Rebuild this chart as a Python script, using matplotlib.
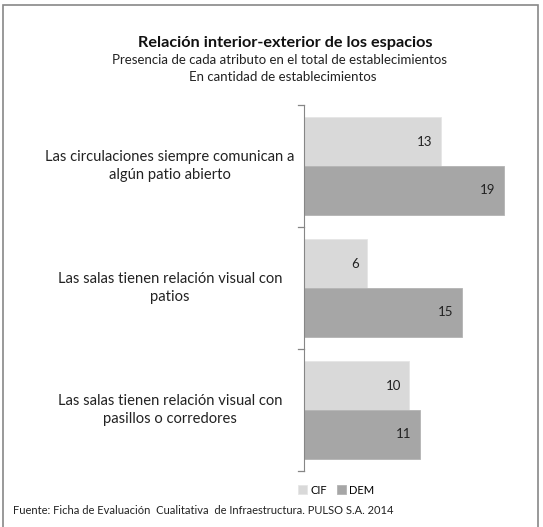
import matplotlib.pyplot as plt
import numpy as np

# datos
categorias = ['Las circulaciones siempre comunican a\nalgún patio abierto',
              'Las salas tienen relación visual con\npatios',
              'Las salas tienen relación visual con\npasillos o corredores']
cif = [13, 6, 10]
dem = [19, 15, 11]
series = ['CIF', 'DEM']
colores = ['#D9D9D9', '#A6A6A6']

plt.rcParams['font.family'] = ['Lato', 'DejaVu Sans']

fig = plt.figure(figsize=(5.43, 5.27), dpi=100)
# marco del gráfico
fig.patches.append(plt.Rectangle((3 / 543, -0.01), 535 / 543, 1 - 5 / 527 + 0.01,
                                 transform=fig.transFigure, fill=False,
                                 edgecolor='#888888', lw=1.2))

ax = fig.add_axes([304 / 543, 1 - 471 / 527, (514.5 - 304) / 543, (471 - 105) / 527])

n = len(categorias)
pos = np.arange(n)
h = 0.4
b1 = ax.barh(pos - h / 2, cif, height=h, color=colores[0], edgecolor='#E6E6E6', lw=0.6, label=series[0])
b2 = ax.barh(pos + h / 2, dem, height=h, color=colores[1], edgecolor='#B4B4B4', lw=0.6, label=series[1])
# etiquetas de valor dentro de la barra
for y, v in zip(pos - h / 2, cif):
    ax.annotate(str(v), (v, y), xytext=(-6, 0), textcoords='offset points',
                ha='right', va='center', fontsize=9.5, color='#222222')
for y, v in zip(pos + h / 2, dem):
    ax.annotate(str(v), (v, y), xytext=(-6, 0), textcoords='offset points',
                ha='right', va='center', fontsize=9.5, color='#222222')

ax.set_xlim(0, 20)
ax.set_ylim(n - 0.5, -0.5)
ax.set_xticks([])
ax.set_yticks([])
for s in ['top', 'right', 'bottom']:
    ax.spines[s].set_visible(False)
ax.spines['left'].set_color('#868686')
for y in np.arange(n + 1) - 0.5:
    ax.plot([-0.55, 0], [y, y], color='#868686', lw=0.9, clip_on=False)

for i, c in enumerate(categorias):
    ax.text(-12.72, i, c, ha='center', va='center', fontsize=10.6,
            color='#222222', linespacing=1.45)

fig.text(285 / 543, 1 - 43 / 527, 'Relación interior-exterior de los espacios',
         ha='center', va='center', fontsize=11.7, fontweight='bold', color='#111111')
fig.text(280 / 543, 1 - 60 / 527, 'Presencia de cada atributo en el total de establecimientos',
         ha='center', va='center', fontsize=9.5, color='#222222')
fig.text(283 / 543, 1 - 77 / 527, 'En cantidad de establecimientos',
         ha='center', va='center', fontsize=9.5, color='#222222')

fig.legend(loc='center', bbox_to_anchor=(336 / 543, 1 - 490 / 527), ncol=2, frameon=False,
           fontsize=8, handlelength=0.8, handleheight=0.8, handletextpad=0.3,
           columnspacing=0.9)

fig.text(13 / 543, 1 - 510 / 527,
         'Fuente: Ficha de Evaluación  Cualitativa  de Infraestructura. PULSO S.A. 2014',
         ha='left', va='center', fontsize=8.0, color='#222222')

fig.savefig('out.png', dpi=100)
